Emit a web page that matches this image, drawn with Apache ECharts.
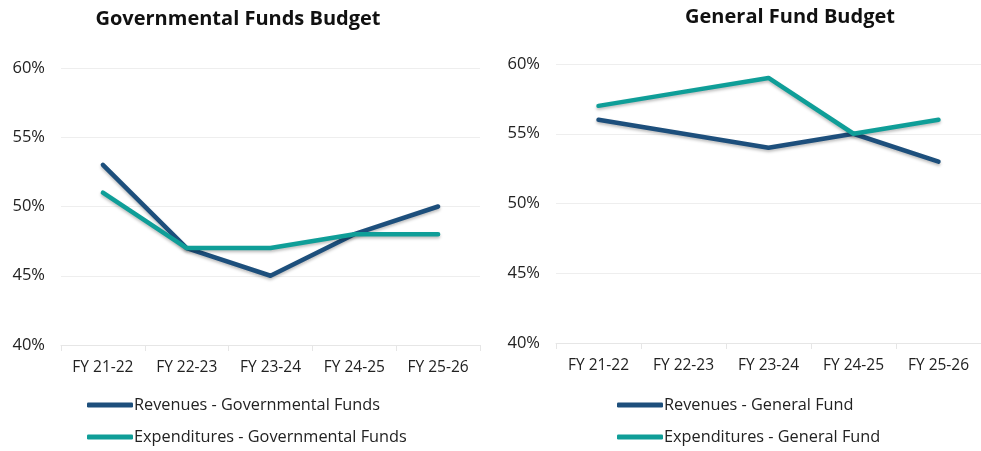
<!DOCTYPE html>
<html>
<head>
<meta charset="utf-8">
<script src="https://cdn.jsdelivr.net/npm/echarts@6/dist/echarts.min.js"></script>
<style>
  html, body { margin: 0; padding: 0; background: #fff; }
  #chart { width: 981px; height: 451px; }
</style>
</head>
<body>
<div id="chart"></div>
<script>
  // categories and values (percent)
  var years = ["FY 21-22", "FY 22-23", "FY 23-24", "FY 24-25", "FY 25-26"];
  var govRevenues = [53, 47, 45, 48, 50];
  var govExpenditures = [51, 47, 47, 48, 48];
  var genRevenues = [56, 55, 54, 55, 53];
  var genExpenditures = [57, 58, 59, 55, 56];

  var navy = "#1d4f7c";
  var teal = "#0f9e98";
  var font = "Open Sans";

  var chart = echarts.init(document.getElementById("chart"));

  function xAxis(idx) {
    return {
      type: "category",
      gridIndex: idx,
      data: years,
      boundaryGap: true,
      axisLine: { lineStyle: { color: "#e6e6e6" } },
      axisTick: { show: true, length: 6, lineStyle: { color: "#e6e6e6" } },
      axisLabel: { color: "#222", fontFamily: font, fontSize: 15.5, margin: 15 }
    };
  }
  function yAxis(idx) {
    return {
      type: "value",
      gridIndex: idx,
      min: 40, max: 60, interval: 5,
      axisLine: { show: false },
      axisTick: { show: false },
      splitLine: { lineStyle: { color: "#eeeeee" } },
      axisLabel: { color: "#222", fontFamily: font, fontSize: 16.5, margin: 16,
        formatter: function (v) { return v + "%"; } }
    };
  }
  function line(name, data, color, idx) {
    return {
      name: name,
      type: "line",
      xAxisIndex: idx,
      yAxisIndex: idx,
      data: data,
      showSymbol: false,
      symbol: "none",
      lineStyle: { color: color, width: 4.5, cap: "round", join: "round",
        shadowColor: "rgba(0,0,0,0.25)", shadowBlur: 3, shadowOffsetY: 2 },
      itemStyle: { color: color }
    };
  }

  chart.setOption({
    animation: false,
    backgroundColor: "#fff",
    title: [
      { text: "Governmental Funds Budget", left: 233, top: 4, textAlign: "center",
        textStyle: { fontFamily: font, fontWeight: "bold", fontSize: 20, color: "#111" } },
      { text: "General Fund Budget", left: 785, top: 2, textAlign: "center",
        textStyle: { fontFamily: font, fontWeight: "bold", fontSize: 20, color: "#111" } }
    ],
    legend: [
      { orient: "vertical", left: 82, top: 392, itemGap: 16, itemWidth: 46, itemHeight: 5,
        icon: "roundRect",
        data: ["Revenues - Governmental Funds", "Expenditures - Governmental Funds"],
        textStyle: { fontFamily: font, fontSize: 16.3, color: "#222", padding: [0, 0, 0, -4] } },
      { orient: "vertical", left: 612, top: 392, itemGap: 16, itemWidth: 46, itemHeight: 5,
        icon: "roundRect",
        data: ["Revenues - General Fund", "Expenditures - General Fund"],
        textStyle: { fontFamily: font, fontSize: 16.3, color: "#222", padding: [0, 0, 0, -4] } }
    ],
    grid: [
      { left: 61, width: 419, top: 68, height: 277, show: false },
      { left: 556, width: 425, top: 64, height: 279, show: false }
    ],
    xAxis: [xAxis(0), xAxis(1)],
    yAxis: [yAxis(0), yAxis(1)],
    series: [
      line("Revenues - Governmental Funds", govRevenues, navy, 0),
      line("Expenditures - Governmental Funds", govExpenditures, teal, 0),
      line("Revenues - General Fund", genRevenues, navy, 1),
      line("Expenditures - General Fund", genExpenditures, teal, 1)
    ]
  });
</script>
</body>
</html>
